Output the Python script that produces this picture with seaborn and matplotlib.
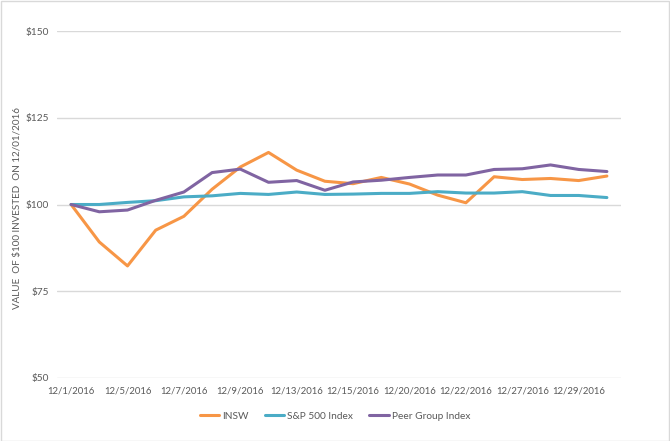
import matplotlib
matplotlib.use("Agg")
import matplotlib.pyplot as plt
import seaborn as sns
import pandas as pd

dates = ["12/1/2016", "12/2/2016", "12/5/2016", "12/6/2016", "12/7/2016",
         "12/8/2016", "12/9/2016", "12/12/2016", "12/13/2016", "12/14/2016",
         "12/15/2016", "12/16/2016", "12/20/2016", "12/21/2016", "12/22/2016",
         "12/23/2016", "12/27/2016", "12/28/2016", "12/29/2016", "12/30/2016"]
insw = [100, 89.2, 82.3, 92.6, 96.6, 104.4, 110.8, 115.0, 109.9, 106.7,
        106.0, 107.8, 105.9, 102.7, 100.5, 108.0, 107.2, 107.5, 106.9, 108.2]
sp500 = [100, 100.0, 100.6, 101.1, 102.2, 102.5, 103.2, 102.9, 103.6, 102.9,
         103.0, 103.2, 103.2, 103.7, 103.3, 103.3, 103.7, 102.6, 102.6, 102.0]
peer = [100, 97.9, 98.4, 101.2, 103.6, 109.2, 110.2, 106.4, 106.9, 104.1,
        106.5, 107.0, 107.8, 108.5, 108.5, 110.1, 110.3, 111.4, 110.1, 109.5]
series_names = ["INSW", "S&P 500 Index", "Peer Group Index"]
yticks = [50, 75, 100, 125, 150]

df = pd.DataFrame({"date": dates * 3,
                   "pos": list(range(len(dates))) * 3,
                   "value": insw + sp500 + peer,
                   "series": [s for s in series_names for _ in dates]})

sns.set_style("white")
plt.rcParams["font.family"] = ["Lato", "DejaVu Sans"]
text_col = "#595959"

fig = plt.figure(figsize=(6.7, 4.41), dpi=100)
ax = fig.add_axes([57 / 670, 1 - 378 / 441, (621 - 57) / 670, (378 - 31) / 441])

palette = {"INSW": "#F79646", "S&P 500 Index": "#4BACC6", "Peer Group Index": "#8064A2"}
sns.lineplot(data=df, x="pos", y="value", hue="series", palette=palette,
             linewidth=2.2, ax=ax, legend=True)

ax.set_ylim(50, 150)
ax.set_xlim(-0.5, len(dates) - 0.5)
ax.set_yticks(yticks)
ax.set_yticklabels([f"${v}" for v in yticks], color=text_col, fontsize=7.3)
ax.set_xticks(range(0, len(dates), 2))
ax.set_xticklabels(dates[::2], color=text_col, fontsize=6.9)
ax.tick_params(axis="both", length=0, pad=6)
ax.yaxis.grid(True, color="#D9D9D9", linewidth=1)
ax.set_axisbelow(True)
for s in ax.spines.values():
    s.set_visible(False)
ax.set_xlabel("")
ax.set_ylabel("VALUE  OF $100 INVESTED  ON 12/01/2016", color=text_col, fontsize=7.1, labelpad=4)
ax.yaxis.set_label_coords(-0.062, 0.49)

handles, labels = ax.get_legend_handles_labels()
ax.legend(handles, labels, loc="center", bbox_to_anchor=(335 / 670, 1 - 416 / 441),
          bbox_transform=fig.transFigure, ncol=3, frameon=False, fontsize=7.3,
          handlelength=1.9, handletextpad=0.3, columnspacing=1.6, labelcolor=text_col)

fig.patches.append(plt.Rectangle((0.001, 0.001), 0.997, 0.997, transform=fig.transFigure,
                                 fill=False, edgecolor="#D9D9D9", linewidth=1))
fig.savefig("out.png", dpi=100)
